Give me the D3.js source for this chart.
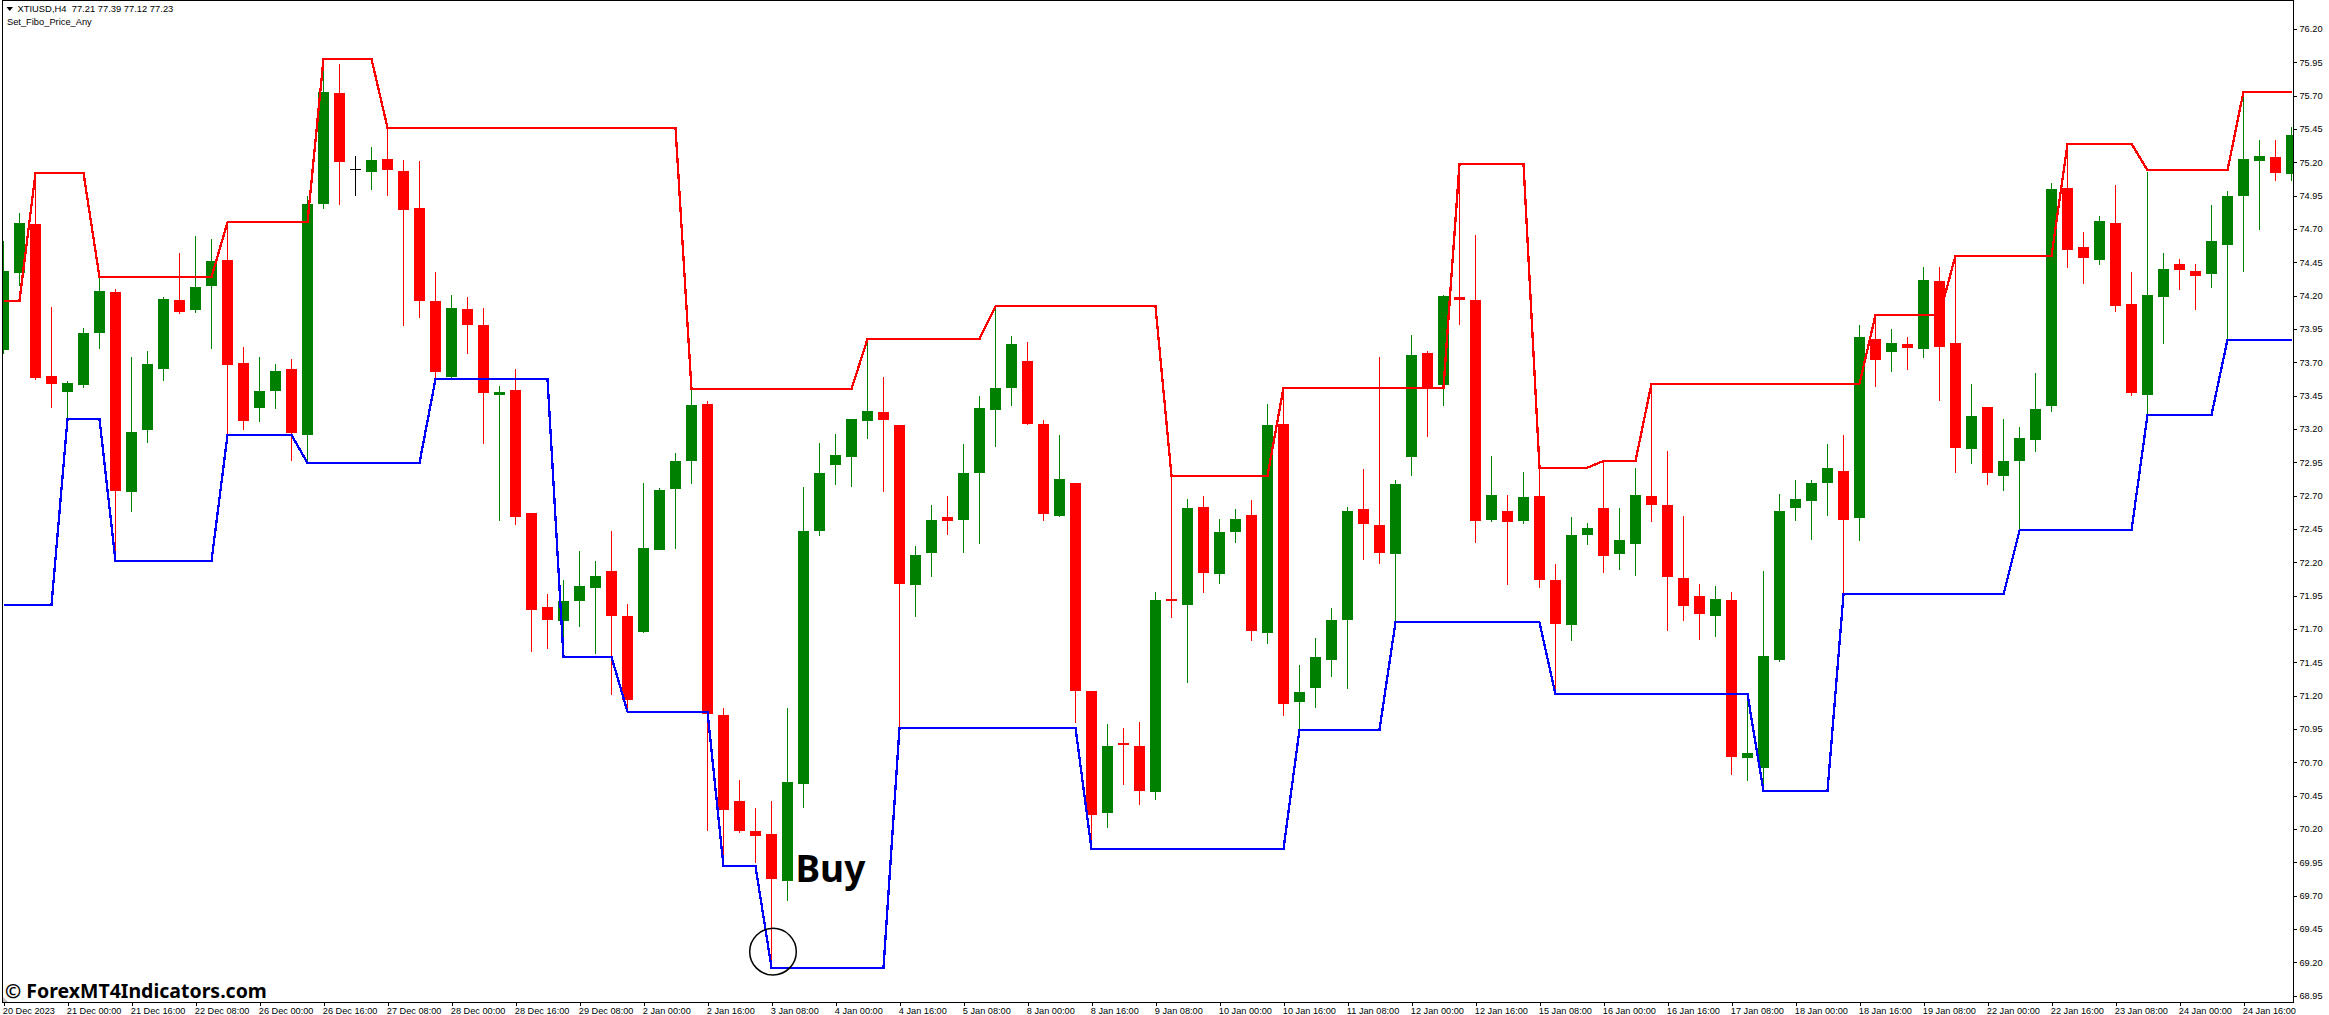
<!DOCTYPE html>
<html>
<head>
<meta charset="utf-8">
<style>
  html, body { margin: 0; padding: 0; background: #fff; overflow: hidden; }
  text { font-family: "Liberation Sans", Arial, sans-serif; fill: #000; }
</style>
<script src="https://cdn.jsdelivr.net/npm/d3@7"></script>
</head>
<body>
<div id="chart"></div>
<script>
// one entry per 4h bar, ten bars to a row
const barOpen = [
  73.79,74.37,74.74,73.60,73.48,73.53,73.92,74.23,72.73,73.19,
  73.65,74.17,74.09,74.27,74.47,73.695,73.36,73.485,73.65,73.155,
  74.89,75.72,75.15,75.13,75.225,75.135,74.86,74.16,73.59,74.10,
  73.98,73.455,73.49,72.57,71.865,71.76,71.91,72.01,72.135,71.80,
  71.68,72.29,72.75,72.96,73.39,71.055,70.41,70.185,70.16,69.81,
  70.54,72.435,72.93,72.99,73.26,73.33,73.23,72.03,72.27,72.54,
  72.52,72.87,73.34,73.51,73.71,73.24,72.55,72.795,71.235,70.32,
  70.845,70.82,70.48,71.925,71.88,72.615,72.11,72.43,72.555,71.67,
  73.24,71.15,71.26,71.47,71.77,72.60,72.48,72.26,72.99,73.77,
  73.53,74.19,74.17,72.52,72.585,72.51,72.70,72.07,71.73,72.405,
  72.61,72.26,72.34,72.70,72.63,72.08,71.95,71.80,71.92,70.73,
  70.66,71.47,72.61,72.66,72.795,72.885,72.53,73.875,73.78,73.84,
  73.80,74.31,73.845,73.05,73.365,72.85,72.96,73.12,73.37,75.01,
  74.565,74.47,74.745,74.14,73.455,74.19,74.44,74.385,74.36,74.58,
  74.95,75.21,75.24,75.11];
const barHigh = [
  74.61,74.82,75.105,74.115,73.56,73.96,74.34,74.25,73.74,73.785,
  74.19,74.52,74.65,74.625,74.745,73.815,73.74,73.69,73.725,74.95,
  75.97,75.94,75.25,75.315,75.46,75.22,75.21,74.38,74.205,74.19,
  74.11,73.52,73.65,72.57,71.96,72.07,72.285,72.21,72.435,71.89,
  72.795,72.76,73.02,73.49,73.41,71.11,70.57,70.36,70.41,71.11,
  72.765,73.095,73.16,73.275,73.875,73.59,73.23,72.32,72.63,72.70,
  73.09,73.45,74.115,73.90,73.85,73.27,73.155,72.795,71.235,70.99,
  70.96,71.00,71.98,72.85,72.675,72.70,72.525,72.60,72.67,73.39,
  73.51,71.43,71.63,71.86,72.615,72.90,73.74,72.82,73.905,73.785,
  74.205,75.18,74.655,73.00,72.705,72.88,72.91,72.19,72.54,72.495,
  72.96,72.61,72.91,73.54,73.035,72.55,72.04,72.02,71.98,71.21,
  72.135,72.71,72.82,72.82,73.09,73.155,73.98,74.055,73.95,73.89,
  74.415,74.415,74.49,73.54,73.365,73.275,73.215,73.62,75.045,75.33,
  74.68,74.80,75.03,74.38,75.13,74.52,74.475,74.44,74.88,74.985,
  75.72,75.37,75.37,75.465];
const barLow = [
  73.76,74.27,73.57,73.36,73.275,73.51,73.80,72.23,72.58,73.095,
  73.56,74.06,74.07,73.80,73.155,73.19,73.25,73.35,72.96,72.945,
  74.85,74.88,74.95,74.99,74.95,73.97,74.03,73.575,73.575,73.76,
  73.09,72.51,72.48,71.53,71.55,71.50,71.715,71.51,71.205,71.085,
  71.67,72.29,72.30,72.79,70.185,69.99,70.17,69.945,69.16,69.66,
  70.36,72.40,72.78,72.765,73.125,72.73,70.96,71.79,72.09,72.405,
  72.27,72.34,73.065,73.37,73.23,72.51,72.54,70.995,70.065,70.21,
  70.53,70.38,70.42,71.78,71.295,71.97,72.04,72.345,71.61,71.59,
  71.05,70.94,71.11,71.34,71.25,72.22,72.19,71.745,72.85,73.14,
  73.37,73.98,72.345,72.50,72.03,72.49,72.01,71.21,71.61,72.33,
  72.12,72.14,72.10,72.50,71.685,71.76,71.62,71.64,70.605,70.56,
  70.49,71.45,72.51,72.37,72.55,71.96,72.36,73.515,73.63,73.64,
  73.73,73.41,72.87,72.94,72.78,72.735,72.44,73.03,73.33,74.41,
  74.29,74.43,74.08,73.45,73.305,73.84,74.24,74.09,74.26,73.87,
  74.38,74.69,75.06,75.06];
const barClose = [
  74.385,74.745,73.58,73.54,73.545,73.92,74.235,72.735,73.18,73.69,
  74.175,74.08,74.265,74.46,73.68,73.26,73.485,73.635,73.17,74.89,
  75.73,75.20,75.15,75.22,75.14,74.84,74.16,73.63,74.11,73.98,
  73.47,73.48,72.54,71.84,71.77,71.91,72.02,72.10,71.80,71.17,
  72.31,72.74,72.96,73.38,71.06,70.34,70.185,70.15,69.825,70.55,
  72.435,72.87,73.005,73.275,73.335,73.27,72.04,72.255,72.52,72.51,
  72.87,73.36,73.51,73.84,73.24,72.56,72.825,71.235,70.305,70.82,
  70.83,70.485,71.92,71.91,72.61,72.12,72.43,72.525,71.685,73.23,
  71.14,71.23,71.49,71.77,72.585,72.49,72.27,72.79,73.755,73.50,
  74.20,74.17,72.51,72.705,72.50,72.69,72.07,71.74,72.405,72.46,
  72.25,72.37,72.705,72.63,72.09,71.87,71.81,71.925,70.74,70.77,
  71.50,72.585,72.675,72.795,72.91,72.52,73.89,73.72,73.845,73.81,
  74.32,73.815,73.06,73.30,72.87,72.96,73.13,73.35,75.00,74.54,
  74.48,74.76,74.12,73.47,74.205,74.40,74.39,74.35,74.61,74.95,
  75.225,75.25,75.12,75.405];

// Set_Fibo_Price_Any bands: the bars where the line bends and its price there
const upperBars = [0,1,2,5,6,13,14,19,20,23,24,42,43,53,54,61,62,72,73,79,80,90,91,95,96,99,100,102,103,116,117,121,122,128,129,133,134,139,140,143];
const upperPrices = [74.16,74.16,75.12,75.12,74.34,74.34,74.75,74.75,75.975,75.975,75.46,75.46,73.50,73.50,73.875,73.875,74.12,74.12,72.85,72.85,73.51,73.51,75.19,75.19,72.91,72.91,72.96,72.96,73.54,73.54,74.055,74.055,74.50,74.50,75.34,75.34,75.14,75.14,75.73,75.73];
const lowerBars = [0,3,4,6,7,13,14,18,19,26,27,34,35,38,39,44,45,47,48,55,56,67,68,80,81,86,87,96,97,109,110,114,115,125,126,133,134,138,139,143];
const lowerPrices = [71.88,71.88,73.275,73.275,72.21,72.21,73.155,73.155,72.945,72.945,73.575,73.575,71.49,71.49,71.08,71.08,69.92,69.92,69.16,69.16,70.96,70.96,70.05,70.05,70.945,70.945,71.75,71.75,71.21,71.21,70.485,70.485,71.96,71.96,72.44,72.44,73.305,73.305,73.87,73.87];

const priceTicks = [76.20,75.95,75.70,75.45,75.20,74.95,74.70,74.45,74.20,73.95,73.70,73.45,73.20,72.95,72.70,72.45,72.20,71.95,71.70,71.45,71.20,70.95,70.70,70.45,70.20,69.95,69.70,69.45,69.20,68.95];
const timeTickBars = [0,4,8,12,16,20,24,28,32,36,40,44,48,52,56,60,64,68,72,76,80,84,88,92,96,100,104,108,112,116,120,124,128,132,136,140];
const timeTickLabels = ["20 Dec 2023","21 Dec 00:00","21 Dec 16:00","22 Dec 08:00","26 Dec 00:00","26 Dec 16:00","27 Dec 08:00","28 Dec 00:00","28 Dec 16:00","29 Dec 08:00","2 Jan 00:00","2 Jan 16:00","3 Jan 08:00","4 Jan 00:00","4 Jan 16:00","5 Jan 08:00","8 Jan 00:00","8 Jan 16:00","9 Jan 08:00","10 Jan 00:00","10 Jan 16:00","11 Jan 08:00","12 Jan 00:00","12 Jan 16:00","15 Jan 08:00","16 Jan 00:00","16 Jan 16:00","17 Jan 08:00","18 Jan 00:00","18 Jan 16:00","19 Jan 08:00","22 Jan 00:00","22 Jan 16:00","23 Jan 08:00","24 Jan 00:00","24 Jan 16:00"];

const width = 2329, height = 1015;
const plot = { left: 2, top: 0, right: 2293, bottom: 1002 };
const bodyWidth = 11;

const svg = d3.select("#chart")
    .append("svg")
    .attr("width", width)
    .attr("height", height)
    .style("display", "block");

const x = d3.scaleLinear().domain([0, 143]).range([3.5, 2291.5]);
const y = d3.scaleLinear().domain([76.20, 68.95]).range([29, 995.67]);

svg.append("clipPath").attr("id", "plot-clip")
    .append("rect")
    .attr("x", plot.left)
    .attr("y", plot.top)
    .attr("width", plot.right - plot.left)
    .attr("height", plot.bottom - plot.top);

const barColor = i => barClose[i] > barOpen[i] ? "#008000" : barClose[i] < barOpen[i] ? "#ff0000" : "#000000";
const bars = d3.range(barOpen.length);

const chart = svg.append("g")
    .attr("clip-path", "url(#plot-clip)")
    .attr("shape-rendering", "crispEdges");

chart.selectAll("line.wick")
    .data(bars)
    .join("line")
    .attr("class", "wick")
    .attr("x1", i => x(i))
    .attr("x2", i => x(i))
    .attr("y1", i => y(barHigh[i]))
    .attr("y2", i => y(barLow[i]))
    .attr("stroke", barColor)
    .attr("stroke-width", 1);

chart.selectAll("rect.body")
    .data(bars)
    .join("rect")
    .attr("class", "body")
    .attr("x", i => x(i) - bodyWidth / 2)
    .attr("y", i => y(Math.max(barOpen[i], barClose[i])))
    .attr("width", bodyWidth)
    .attr("height", i => Math.max(1, y(Math.min(barOpen[i], barClose[i])) - y(Math.max(barOpen[i], barClose[i]))))
    .attr("fill", barColor);

const band = d3.line().x(d => x(d[0])).y(d => y(d[1]));

chart.append("path")
    .attr("d", band(d3.zip(upperBars, upperPrices)))
    .attr("fill", "none")
    .attr("stroke", "#ff0000")
    .attr("stroke-width", 2.3);

chart.append("path")
    .attr("d", band(d3.zip(lowerBars, lowerPrices)))
    .attr("fill", "none")
    .attr("stroke", "#0000ff")
    .attr("stroke-width", 2.3);

// frame of the MT4 window
svg.append("rect")
    .attr("x", plot.left + 0.5)
    .attr("y", plot.top + 0.5)
    .attr("width", plot.right - plot.left)
    .attr("height", plot.bottom - plot.top)
    .attr("fill", "none")
    .attr("stroke", "#000")
    .attr("shape-rendering", "crispEdges");

const yAxis = d3.axisRight(y)
    .tickValues(priceTicks)
    .tickFormat(d3.format(".2f"))
    .tickSize(3)
    .tickPadding(3);
svg.append("g")
    .attr("transform", `translate(${plot.right + 0.5},0)`)
    .call(yAxis)
    .call(g => g.select(".domain").remove())
    .call(g => g.selectAll("line").attr("shape-rendering", "crispEdges"))
    .selectAll("text")
    .style("font-family", "'Liberation Sans', Arial, sans-serif")
    .style("font-size", "9.2px");

const xAxis = d3.axisBottom(x)
    .tickValues(timeTickBars)
    .tickFormat((d, i) => timeTickLabels[i])
    .tickSize(3)
    .tickPadding(3);
svg.append("g")
    .attr("transform", `translate(0,${plot.bottom + 0.5})`)
    .call(xAxis)
    .call(g => g.select(".domain").remove())
    .call(g => g.selectAll("line").attr("shape-rendering", "crispEdges"))
    .selectAll("text")
    .attr("text-anchor", "start")
    .attr("x", -1.2)
    .attr("y", 11.5)
    .attr("dy", 0)
    .style("font-family", "'Liberation Sans', Arial, sans-serif")
    .style("font-size", "9.2px");

// header text
svg.append("path").attr("d", "M6.5,7 L13,7 L9.75,11 Z").attr("fill", "#000");
svg.append("text").attr("x", 17.5).attr("y", 12)
    .style("font-size", "9.4px")
    .style("white-space", "pre")
    .text("XTIUSD,H4  77.21 77.39 77.12 77.23");
svg.append("text").attr("x", 7).attr("y", 25)
    .style("font-size", "9.3px")
    .text("Set_Fibo_Price_Any");

// corner marker, watermark and the buy annotation
svg.append("path").attr("d", "M3,997 L8,1002 L3,1002 Z").attr("fill", "#c0c0c0");
svg.append("text").attr("x", 5).attr("y", 998)
    .style("font-family", "'Noto Sans', sans-serif")
    .style("font-weight", 700)
    .style("font-size", "19.5px")
    .text("© ForexMT4Indicators.com");
svg.append("text").attr("x", x(49) + 8).attr("y", 882)
    .style("font-family", "'Noto Sans', sans-serif")
    .style("font-weight", 700)
    .style("font-size", "37px")
    .text("Buy");
svg.append("circle")
    .attr("cx", x(48) + 1.5)
    .attr("cy", y(69.28))
    .attr("r", 23.3)
    .attr("fill", "none")
    .attr("stroke", "#000")
    .attr("stroke-width", 1.5);
</script>
</body>
</html>
